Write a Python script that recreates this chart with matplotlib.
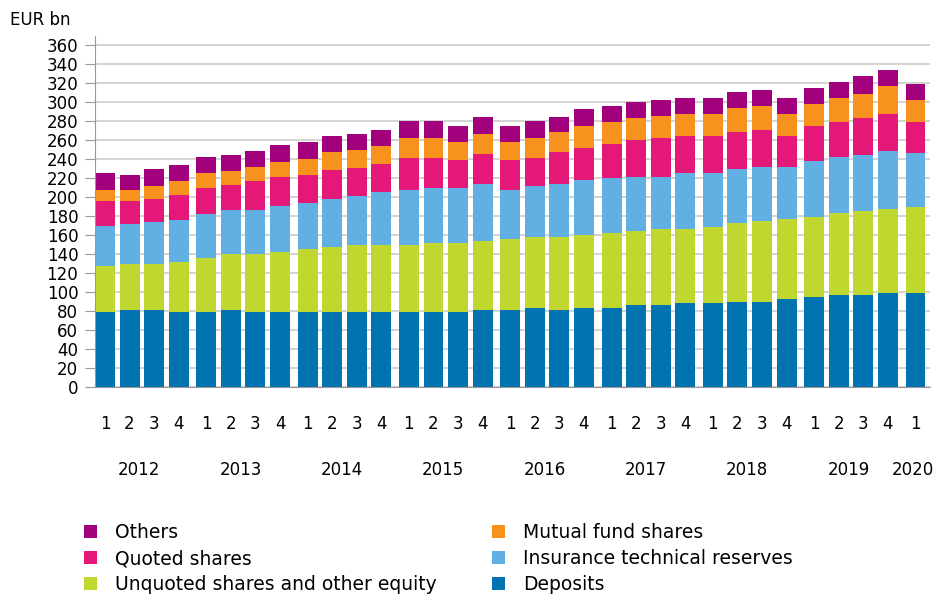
import numpy as np
import matplotlib
matplotlib.use("Agg")
import matplotlib.pyplot as plt
from matplotlib.patches import Patch
import matplotlib.transforms as mtransforms

# quarters 2012Q1 .. 2020Q1
years = ["2012", "2013", "2014", "2015", "2016", "2017", "2018", "2019", "2020"]
quarters = ["1", "2", "3", "4"] * 8 + ["1"]

deposits = [79, 81, 81, 79, 79, 81, 79, 79, 79, 79, 79, 79, 79, 79, 79, 81.4,
            81.4, 83.5, 81.4, 83.5, 83.6, 85.8, 85.8, 87.9, 87.9, 90, 90, 92.2,
            94.3, 96.4, 96.4, 98.5, 98.5]
unquoted = [48.5, 48.6, 48.6, 52.7, 56.9, 59.1, 61.1, 63.3, 66, 68, 70.6, 70.6,
            70.6, 72.8, 72.8, 72.5, 74.6, 74.6, 76.7, 76.7, 78.6, 78.4, 80.5,
            78.4, 80.5, 82.7, 84.8, 84.7, 84.7, 86.9, 89, 89, 91.1]
insurance = [42.1, 42.2, 44.3, 44.3, 46.4, 46.4, 46.4, 48.4, 49, 51, 51, 55.2,
             57.3, 57.3, 57.3, 59.4, 50.9, 53.1, 55.2, 57.3, 57.3, 57.2, 55.1,
             59.3, 57.2, 57.2, 57.2, 55.1, 59.3, 59.3, 59.3, 61.4, 57.2]
quoted = [25.7, 23.5, 23.5, 25.6, 27.7, 25.7, 29.9, 29.9, 29.5, 30, 30, 30.1,
          34.3, 32.1, 30, 32.2, 32.2, 30, 34.3, 34.4, 36.2, 38.1, 40.3, 38.2,
          38.2, 38.5, 38.5, 32.1, 36.4, 36.4, 38.5, 38.5, 32.2]
mutual = [12.3, 12.3, 14.6, 14.8, 14.8, 14.7, 14.7, 16.5, 17, 19.5, 19.1, 19.1,
          21.3, 21.3, 19.1, 21.2, 19.1, 21.3, 21.2, 23.3, 23.5, 23.7, 23.6, 23.6,
          23.6, 25.4, 25.4, 23.3, 23.3, 25.4, 25.4, 29.7, 23.3]
others = [17.2, 15.1, 17, 16.8, 16.9, 16.9, 16.9, 17.2, 17, 17, 17, 17, 17, 17,
          17, 17, 17, 17, 14.9, 17, 16.9, 16.9, 17, 17, 17, 16.9, 17, 17, 17,
          16.9, 19.1, 16.9, 16.9]

series = [
    ("Deposits", deposits, "#0073b0"),
    ("Unquoted shares and other equity", unquoted, "#c0d72f"),
    ("Insurance technical reserves", insurance, "#62b0e3"),
    ("Quoted shares", quoted, "#e41878"),
    ("Mutual fund shares", mutual, "#f7921e"),
    ("Others", others, "#a3007e"),
]

plt.rcParams['font.family'] = ['DejaVu Sans']

n = len(deposits)
idx = np.arange(n)
x = idx + 0.12 * (idx // 4)

fig = plt.figure(figsize=(9.39, 5.99), dpi=100)
ax = fig.add_axes([95 / 939, 1 - 387 / 599, 835 / 939, 351.5 / 599])

bottom = np.zeros(n)
colors = {}
for name, vals, col in series:
    vals = np.array(vals)
    ax.bar(x, vals, width=0.81, bottom=bottom, color=col, linewidth=0, zorder=2)
    bottom += vals
    colors[name] = col

ax.set_xlim(-0.405, 33.55)
ax.set_ylim(0, 370)
ax.set_yticks(np.arange(0, 361, 20))
ax.yaxis.grid(True, color="#cccccc", linewidth=1.2)
ax.set_axisbelow(True)
for s in ["top", "right"]:
    ax.spines[s].set_visible(False)
ax.spines["left"].set_color("#999999")
ax.spines["bottom"].set_color("#999999")
ax.tick_params(axis="y", length=7, color="#999999", labelsize=12, pad=5)
ax.set_xticks(x)
ax.set_xticklabels(quarters)
ax.tick_params(axis="x", length=0, labelsize=12, pad=20)

trans = mtransforms.blended_transform_factory(ax.transData, ax.transAxes)
for g, yr in enumerate(years):
    grp = x[g * 4:g * 4 + 4]
    ax.text(grp.mean() - 0.1, -0.236, yr, transform=trans, ha="center",
            va="center", fontsize=12)

fig.text(10 / 939, 1 - 20 / 599, "EUR bn", fontsize=12, va="center")

col1 = ["Others", "Quoted shares", "Unquoted shares and other equity"]
col2 = ["Mutual fund shares", "Insurance technical reserves", "Deposits"]
for names, xa in [(col1, 84 / 939), (col2, 492 / 939)]:
    handles = [Patch(facecolor=colors[nm], edgecolor="none") for nm in names]
    fig.legend(handles, names, loc="upper left", bbox_to_anchor=(xa, 1 - 523 / 599),
               frameon=False, fontsize=13.5, handlelength=0.7, handleheight=0.7,
               handletextpad=0.95, labelspacing=0.38, borderpad=0, borderaxespad=0)

fig.savefig("out.png", dpi=100)
